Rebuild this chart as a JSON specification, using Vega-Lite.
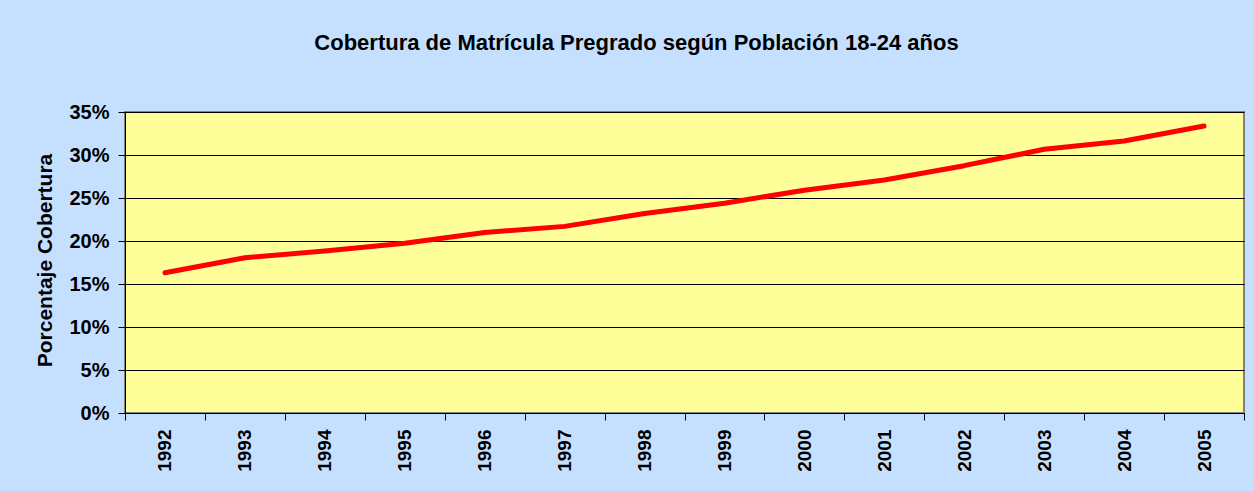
{
  "$schema": "https://vega.github.io/schema/vega-lite/v6.json",
  "width": 1119,
  "height": 301,
  "autosize": {"type": "none"},
  "padding": {"left": 125, "top": 112, "right": 10, "bottom": 78},
  "background": "#C5E0FF",
  "title": {
    "text": "Cobertura de Matrícula Pregrado según Población 18-24 años",
    "font": "Liberation Sans",
    "fontSize": 22,
    "fontWeight": "bold",
    "color": "black",
    "anchor": "middle",
    "frame": "group",
    "dx": -48,
    "offset": 25,
    "baseline": "bottom"
  },
  "data": {
    "values": [
      {"year": "1992", "coverage": 0.1630},
      {"year": "1993", "coverage": 0.1806},
      {"year": "1994", "coverage": 0.1884},
      {"year": "1995", "coverage": 0.1973},
      {"year": "1996", "coverage": 0.2100},
      {"year": "1997", "coverage": 0.2170},
      {"year": "1998", "coverage": 0.2320},
      {"year": "1999", "coverage": 0.2440},
      {"year": "2000", "coverage": 0.2590},
      {"year": "2001", "coverage": 0.2710},
      {"year": "2002", "coverage": 0.2876},
      {"year": "2003", "coverage": 0.3066},
      {"year": "2004", "coverage": 0.3163},
      {"year": "2005", "coverage": 0.3337}
    ]
  },
  "mark": {"type": "line", "color": "#FF0000", "strokeWidth": 5, "strokeCap": "round", "strokeJoin": "round"},
  "encoding": {
    "x": {
      "field": "year",
      "type": "ordinal",
      "scale": {"type": "band", "paddingInner": 0, "paddingOuter": 0},
      "bandPosition": 0.5,
      "axis": {
        "title": null,
        "labelAngle": 270,
        "labelAlign": "right",
        "labelBaseline": "middle",
        "labelFont": "Liberation Sans",
        "labelFontWeight": "bold",
        "labelFontSize": 19,
        "labelColor": "black",
        "labelPadding": 9,
        "tickSize": 7,
        "tickColor": "black",
        "tickBand": "extent",
        "domainColor": "black",
        "grid": false
      }
    },
    "y": {
      "field": "coverage",
      "type": "quantitative",
      "scale": {"domain": [0, 0.35], "nice": false},
      "axis": {
        "title": "Porcentaje Cobertura",
        "format": ".0%",
        "values": [0, 0.05, 0.1, 0.15, 0.2, 0.25, 0.3, 0.35],
        "labelFont": "Liberation Sans",
        "labelFontWeight": "bold",
        "labelFontSize": 20,
        "labelColor": "black",
        "labelPadding": 9,
        "tickSize": 7,
        "tickColor": "black",
        "domainColor": "black",
        "grid": true,
        "gridColor": "black",
        "gridOpacity": 1,
        "gridWidth": 1,
        "titleFont": "Liberation Sans",
        "titleFontWeight": "bold",
        "titleFontSize": 21,
        "titleColor": "black",
        "titleX": -80,
        "titleY": 148,
        "titleAngle": 270,
        "titleAlign": "center",
        "titleBaseline": "middle"
      }
    }
  },
  "config": {
    "view": {"fill": "#FFFF99", "stroke": "#808080", "strokeWidth": 2}
  }
}
